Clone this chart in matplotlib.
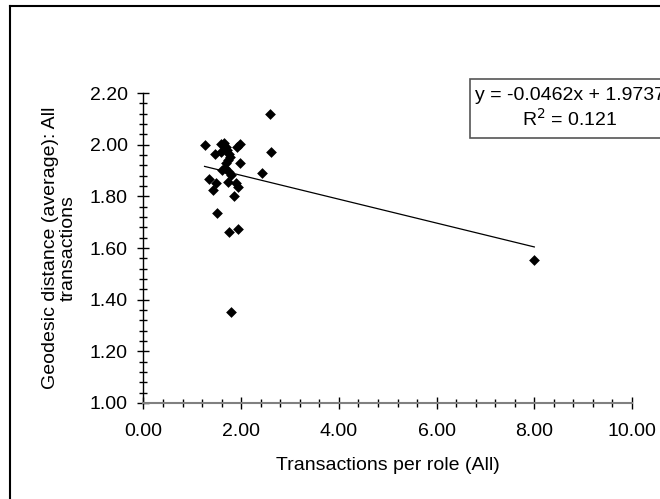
import matplotlib
matplotlib.use('Agg')
import numpy as np
from matplotlib import pyplot as plt
from matplotlib.ticker import MultipleLocator, FormatStrFormatter
from matplotlib.patches import Rectangle
from matplotlib.lines import Line2D

# data
trans_per_role = [1.25, 1.58, 1.64, 1.68, 1.71, 1.97, 1.92, 1.46, 1.59, 1.75,
                  1.77, 1.73, 1.68, 1.66, 1.60, 1.745, 1.80, 1.97, 2.60, 2.58,
                  2.42, 1.345, 1.49, 1.73, 1.90, 1.935, 1.425, 1.85, 1.505, 1.745,
                  1.935, 1.795, 8.00]
geodesic_dist = [2.00, 2.003, 2.005, 1.99, 1.98, 2.003, 1.99, 1.963, 1.973, 1.963,
                 1.954, 1.94, 1.928, 1.909, 1.902, 1.895, 1.883, 1.928, 1.973, 2.119,
                 1.892, 1.867, 1.851, 1.857, 1.853, 1.838, 1.825, 1.803, 1.735, 1.663,
                 1.674, 1.353, 1.552]
slope = -0.0462
intercept = 1.9737
r_squared = 0.121

plt.rcParams['font.family'] = ['Liberation Sans', 'DejaVu Sans']
fs = 14

fig = plt.figure(figsize=(6.6, 4.99), dpi=100)
ax = fig.add_axes([0.2174, 0.1924, 0.7402, 0.6212])

ax.scatter(trans_per_role, geodesic_dist, marker='D', s=30, c='black',
           edgecolors='black', linewidths=0, zorder=3)

# linear trendline
xs = np.array([min(trans_per_role), max(trans_per_role)])
ax.plot(xs, slope * xs + intercept, color='black', lw=0.9, zorder=2)

ax.set_xlim(0, 10)
ax.set_ylim(1.0, 2.2)
ax.xaxis.set_major_locator(MultipleLocator(2))
ax.xaxis.set_minor_locator(MultipleLocator(0.4))
ax.yaxis.set_major_locator(MultipleLocator(0.2))
ax.yaxis.set_minor_locator(MultipleLocator(0.04))
ax.xaxis.set_major_formatter(FormatStrFormatter('%.2f'))
ax.yaxis.set_major_formatter(FormatStrFormatter('%.2f'))

ax.spines['top'].set_visible(False)
ax.spines['right'].set_visible(False)
ax.spines['left'].set_color('black')
ax.spines['bottom'].set_color('#808080')
ax.spines['bottom'].set_linewidth(1.5)
ax.spines['left'].set_linewidth(1.0)

ax.tick_params(axis='both', which='major', direction='inout', length=9, width=1,
               labelsize=fs, color='black')
ax.tick_params(axis='both', which='minor', direction='inout', length=6, width=1,
               color='black')
ax.tick_params(axis='y', which='major', pad=7)
ax.tick_params(axis='x', which='major', pad=10)

ax.set_xlabel('Transactions per role (All)', fontsize=fs, labelpad=12)
ax.set_ylabel('Geodesic distance (average): All\ntransactions', fontsize=fs,
              labelpad=9, linespacing=1.05)

# outer chart frame (only left and top edges fall inside the image)
fig.add_artist(Line2D([10.5 / 660, 10.5 / 660], [0, 1 - 6 / 499],
                      transform=fig.transFigure, color='black', lw=1.5))
fig.add_artist(Line2D([10.5 / 660, 1], [1 - 6 / 499, 1 - 6 / 499],
                      transform=fig.transFigure, color='black', lw=1.5))

# trendline label box (runs off the right edge, as in the original)
fig.add_artist(Rectangle((470 / 660, 1 - 138 / 499), 0.5, 59 / 499,
                         transform=fig.transFigure, facecolor='white',
                         edgecolor='#555555', lw=1.2))
fig.text(570 / 660, 1 - 96 / 499, 'y = -0.0462x + 1.9737', fontsize=fs,
         ha='center', va='center')
fig.text(570 / 660, 1 - 119 / 499, 'R$^2$ = %.3f' % r_squared, fontsize=fs,
         ha='center', va='center')

fig.savefig('out.png', dpi=100)
